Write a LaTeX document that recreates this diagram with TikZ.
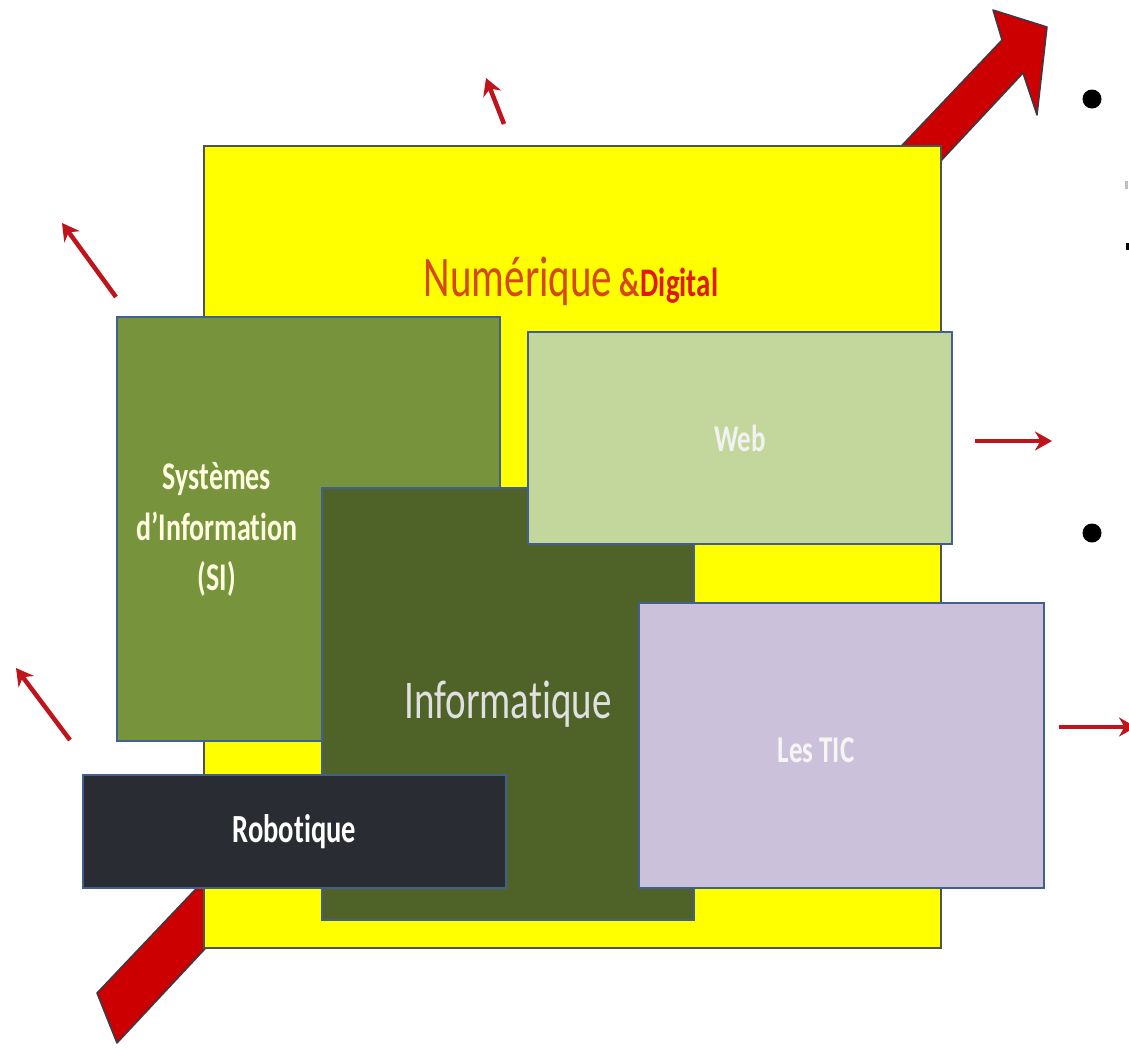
\documentclass[tikz,border=0pt]{standalone}
\usepackage{fontspec}
\usepackage{graphicx}
\setmainfont[Ligatures=NoCommon]{Carlito}
\usetikzlibrary{arrows.meta}
\definecolor{yel}{HTML}{FFFF00}
\definecolor{yelborder}{HTML}{4A5550}
\definecolor{boxborder}{HTML}{41608F}
\definecolor{sigreen}{HTML}{77933C}
\definecolor{webgreen}{HTML}{C3D69B}
\definecolor{infogreen}{HTML}{4F6228}
\definecolor{ticlav}{HTML}{CCC1DA}
\definecolor{robdark}{HTML}{292C32}
\definecolor{thinred}{HTML}{C0141C}
\definecolor{bigred}{HTML}{CC0000}
\definecolor{bigborder}{HTML}{3A3A48}
\definecolor{numcol}{HTML}{D4481A}
\definecolor{digcol}{HTML}{E01818}
\newcommand\stretchtxt[1]{\scalebox{1}[1.4]{#1}}
\begin{document}
\begin{tikzpicture}[x=1pt,y=-1pt,
  box/.style={draw=boxborder, line width=1.8pt, anchor=north west, inner sep=0pt},
  lbl/.style={inner sep=0pt, align=center},
  thinarrow/.style={draw=thinred, line width=4.5pt, -{Stealth[length=17pt,width=19pt]}},
]
\useasboundingbox (0,0) rectangle (1129,1047);
\fill[white] (0,0) rectangle (1129,1047);

% big red arrow behind the yellow area
\filldraw[fill=bigred, draw=bigborder, line width=1.5pt, line join=round]
  (97,993) -- (1002,40) -- (993,10) -- (1047,27) -- (1037,115) -- (1023,73) -- (117,1043) -- cycle;

% yellow field
\node[box, fill=yel, draw=yelborder, minimum width=737, minimum height=802] (num) at (203,145) {};
\node[lbl, text=numcol] (title) at (571,281)
  {\stretchtxt{\fontsize{41}{48}\selectfont Numérique\hspace{7pt}{\fontsize{29}{34}\selectfont\bfseries \&\hspace{1pt}\textcolor{digcol}{Digital}}}};

% boxes
\node[box, fill=sigreen, minimum width=383, minimum height=424] (si) at (116,316) {};
\node[lbl, text=white!88!yellow] (sitxt) at (217,530)
  {\stretchtxt{\fontsize{28}{36}\selectfont\bfseries\begin{tabular}{@{}c@{}}Systèmes\\d’Information\\(SI)\end{tabular}}};

\node[box, fill=infogreen, minimum width=372, minimum height=432, text=white!88!black] (info) at (321,487)
  {\stretchtxt{\fontsize{39}{46}\selectfont Informatique}};

\node[box, fill=webgreen, minimum width=424, minimum height=212, text=white!95!black] (web) at (527,331)
  {\stretchtxt{\fontsize{27}{32}\selectfont\bfseries Web}};

\node[box, fill=ticlav, minimum width=405, minimum height=285] (tic) at (638,602) {};
\node[lbl, text=white!96!black] (tictxt) at (816,750)
  {\stretchtxt{\fontsize{27}{32}\selectfont\bfseries Les TIC}};

\node[box, fill=robdark, minimum width=423, minimum height=113, text=white] (rob) at (82,774)
  {\stretchtxt{\fontsize{28.5}{34}\selectfont\bfseries Robotique}};

% thin arrows
\coordinate (a1s) at (504,124); \coordinate (a1e) at (486,78);
\coordinate (a2s) at (116,297); \coordinate (a2e) at (62,223);
\coordinate (a3s) at (70,740);  \coordinate (a3e) at (16,668);
\coordinate (a4s) at (975,441); \coordinate (a4e) at (1052,441);
\coordinate (a5s) at (1059,727); \coordinate (a5e) at (1136,727);
\draw[thinarrow] (a1s) -- (a1e);
\draw[thinarrow] (a2s) -- (a2e);
\draw[thinarrow] (a3s) -- (a3e);
\draw[thinarrow] (a4s) -- (a4e);
\draw[thinarrow] (a5s) -- (a5e);

% bullets
\fill[black] (1092,99) circle (9.5);
\fill[black] (1092,533) circle (9.5);
% cropped text fragments at the right edge
\fill[black!25] (1125,181) rectangle (1128,189);
\fill[black] (1126,243) rectangle (1129,250);
\end{tikzpicture}
\end{document}
